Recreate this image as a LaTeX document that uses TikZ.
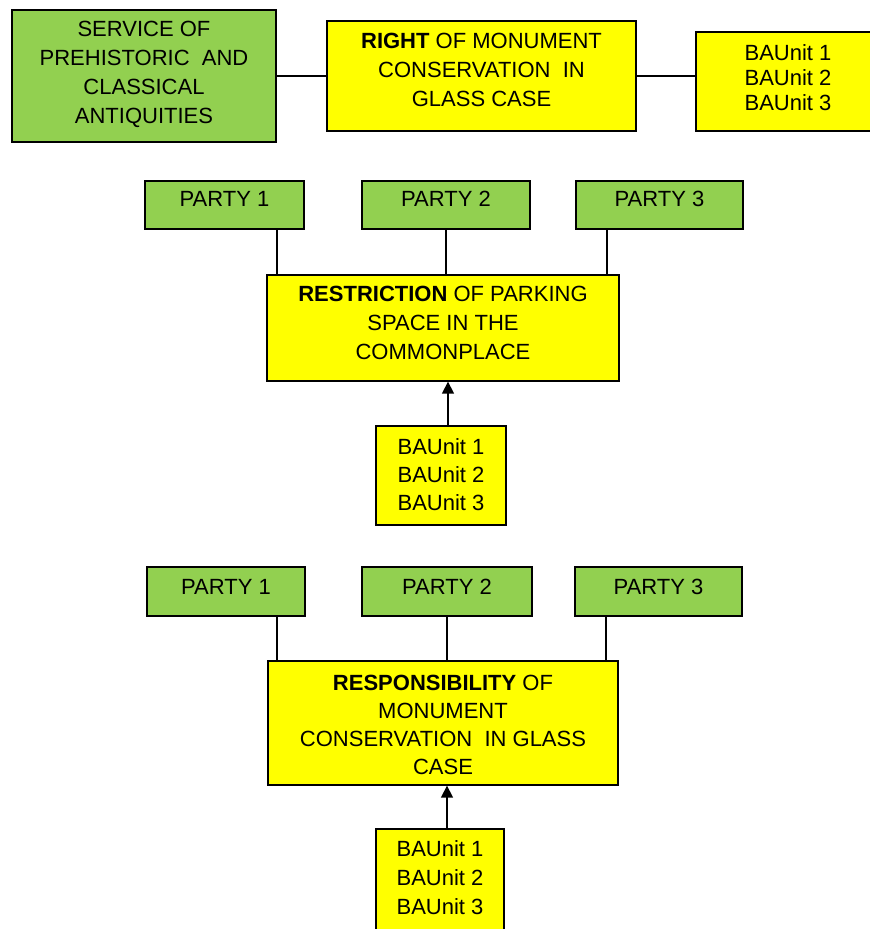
\documentclass[tikz,border=0pt]{standalone}
\usepackage{fontspec}
\setmainfont{Liberation Sans}
\usetikzlibrary{arrows.meta}
\definecolor{boxgreen}{RGB}{146,208,80}
\definecolor{boxyellow}{RGB}{255,255,0}
\tikzset{
  box/.style={draw=black,line width=1.3pt,inner sep=0pt},
  greenbox/.style={box,fill=boxgreen},
  yellowbox/.style={box,fill=boxyellow},
  every label/.style={align=center,inner sep=0pt,
    font=\fontsize{22}{29}\selectfont},
  link/.style={line width=1.4pt},
  uparrow/.style={link,-{Triangle[width=12pt,length=12pt]}}
}
\begin{document}
\begin{tikzpicture}[x=1pt,y=-1pt]
  \useasboundingbox (0,0) rectangle (870,929);
  %TOP ROW
  \node[greenbox,minimum width=264pt,minimum height=132pt,
    label={[yshift=2pt]center:SERVICE OF\\PREHISTORIC~~AND\\CLASSICAL\\ANTIQUITIES}]
    (service) at (144,76) {};
  \node[yellowbox,minimum width=309pt,minimum height=110pt,
    label={[yshift=6pt]center:\textbf{RIGHT} OF MONUMENT\\CONSERVATION~~IN\\GLASS CASE}]
    (right) at (481.5,76) {};
  \node[yellowbox,minimum width=184pt,minimum height=99pt,
    label={[yshift=4pt,font=\fontsize{22}{25}\selectfont]center:BAUnit 1\\BAUnit 2\\BAUnit 3}]
    (unitsA) at (788,81.5) {};
  \draw[link] (service.east |- right.east) -- (right.east -| right.west);
  \draw[link] (right.east) -- (right.east -| unitsA.west);
  %RESTRICTION
  \node[greenbox,minimum width=159pt,minimum height=48pt,
    label={[yshift=6pt]center:PARTY 1}] (partyA1) at (224.5,205) {};
  \node[greenbox,minimum width=168pt,minimum height=48pt,
    label={[yshift=6pt]center:PARTY 2}] (partyA2) at (446,205) {};
  \node[greenbox,minimum width=167pt,minimum height=48pt,
    label={[yshift=6pt]center:PARTY 3}] (partyA3) at (659.5,205) {};
  \node[yellowbox,minimum width=352pt,minimum height=106pt,
    label={[yshift=5pt]center:\textbf{RESTRICTION} OF PARKING\\SPACE IN THE\\COMMONPLACE}]
    (restr) at (443,328) {};
  \node[yellowbox,minimum width=130pt,minimum height=99pt,
    label={[yshift=1pt,font=\fontsize{22}{28}\selectfont]center:BAUnit 1\\BAUnit 2\\BAUnit 3}]
    (unitsB) at (441,475.5) {};
  \path (restr.north west) ++(10.5,0) coordinate (ra);
  \path (restr.north east) ++(-12.5,0) coordinate (rc);
  \path (unitsB.north) ++(7,0) coordinate (rb);
  \draw[link] (ra) -- (ra |- partyA1.south);
  \draw[link] (partyA2.south) -- (partyA2.south |- restr.north);
  \draw[link] (rc) -- (rc |- partyA3.south);
  \draw[uparrow] (rb) -- (rb |- restr.south);
  %RESPONSIBILITY
  \node[greenbox,minimum width=158pt,minimum height=49pt,
    label={[yshift=5pt]center:PARTY 1}] (partyB1) at (226,591.5) {};
  \node[greenbox,minimum width=170pt,minimum height=49pt,
    label={[yshift=5pt]center:PARTY 2}] (partyB2) at (447,591.5) {};
  \node[greenbox,minimum width=167pt,minimum height=49pt,
    label={[yshift=5pt]center:PARTY 3}] (partyB3) at (658.5,591.5) {};
  \node[yellowbox,minimum width=350pt,minimum height=124pt,
    label={[yshift=-2pt,font=\fontsize{22}{28}\selectfont]center:\textbf{RESPONSIBILITY} OF\\MONUMENT\\CONSERVATION~~IN GLASS\\CASE}]
    (resp) at (443,723) {};
  \node[yellowbox,minimum width=128pt,minimum height=105pt,
    label={[yshift=4pt]center:BAUnit 1\\BAUnit 2\\BAUnit 3}]
    (unitsC) at (440,881.5) {};
  \path (resp.north west) ++(9.5,0) coordinate (sa);
  \path (resp.north east) ++(-12.5,0) coordinate (sc);
  \path (unitsC.north) ++(7,0) coordinate (sb);
  \draw[link] (sa) -- (sa |- partyB1.south);
  \draw[link] (partyB2.south) -- (partyB2.south |- resp.north);
  \draw[link] (sc) -- (sc |- partyB3.south);
  \draw[uparrow] (sb) -- (sb |- resp.south);
\end{tikzpicture}
\end{document}
